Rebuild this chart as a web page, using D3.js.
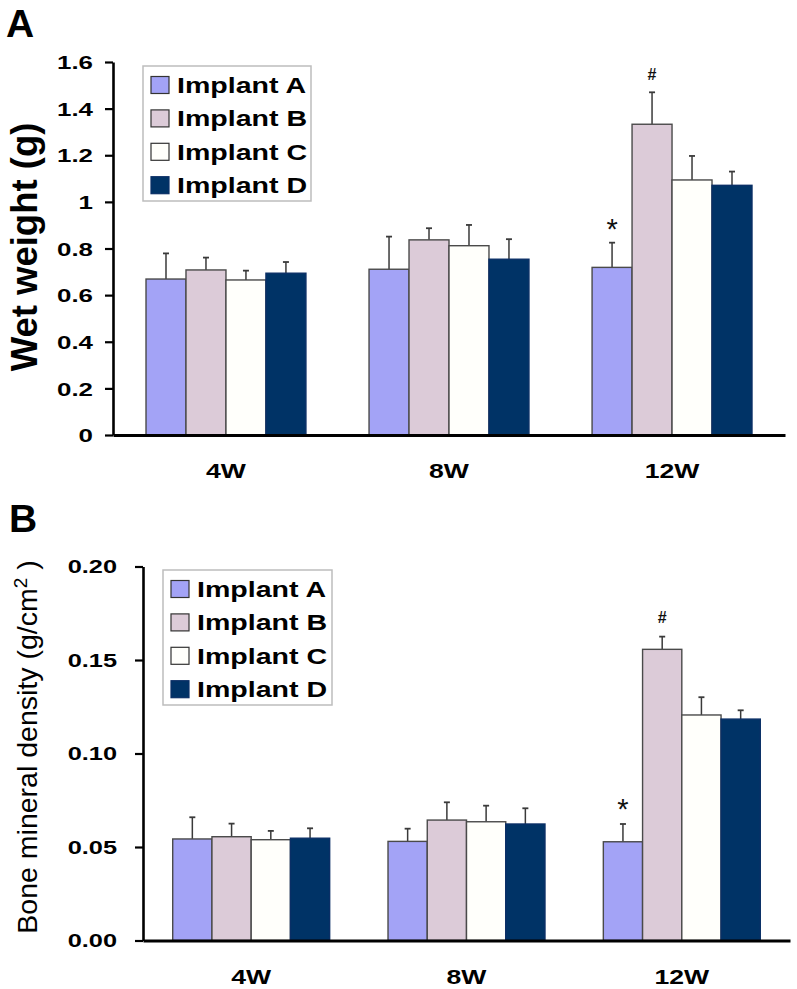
<!DOCTYPE html>
<html><head><meta charset="utf-8">
<script src="https://cdn.jsdelivr.net/npm/d3@7"></script>
<style>body{margin:0;background:#fff} svg{display:block}</style>
</head><body><svg id="c" width="797" height="989"></svg>
<script>
// ---------- data ----------
const weeks = ["4W", "8W", "12W"];
const series = ["Implant A", "Implant B", "Implant C", "Implant D"];
const fills = ["#a3a3f6", "#dccbd8", "#fffffb", "#003366"];
const outlines = ["#4a4a4a", "#4a4a4a", "#4a4a4a", "#0a2f66"];

// Panel A – wet weight (g); rows = weeks, columns = implants
const wetMean = [
  [0.669, 0.708, 0.665, 0.694],
  [0.711, 0.837, 0.812, 0.754],
  [0.719, 1.333, 1.094, 1.071]
];
const wetErr = [
  [0.110, 0.053, 0.040, 0.048],
  [0.140, 0.050, 0.089, 0.086],
  [0.106, 0.137, 0.103, 0.059]
];
const wetTicks = [0, 0.2, 0.4, 0.6, 0.8, 1, 1.2, 1.4, 1.6];
const wetTickLabels = ["0", "0.2", "0.4", "0.6", "0.8", "1", "1.2", "1.4", "1.6"];

// Panel B – bone mineral density (g/cm2)
const bmdMean = [
  [0.0543, 0.0555, 0.0539, 0.0547],
  [0.0530, 0.0644, 0.0635, 0.0623],
  [0.0528, 0.1557, 0.1206, 0.1184]
];
const bmdErr = [
  [0.0116, 0.0070, 0.0047, 0.0053],
  [0.0068, 0.0095, 0.0086, 0.0084],
  [0.0095, 0.0068, 0.0095, 0.0047]
];
const bmdTicks = [0, 0.05, 0.10, 0.15, 0.20];
const bmdTickLabels = ["0.00", "0.05", "0.10", "0.15", "0.20"];

// significance marks (week, implant, symbol)
const marks = [
  { week: "12W", series: "Implant A", sym: "*" },
  { week: "12W", series: "Implant B", sym: "#" }
];

// ---------- drawing ----------
const FONT = "'Liberation Sans', Arial, Helvetica, sans-serif";
const svg = d3.select("#c");

function panel(cfg) {
  const g = svg.append("g");
  const x0 = d3.scaleBand().domain(weeks).range(cfg.xr)
    .paddingInner(cfg.pi).paddingOuter(cfg.po);
  const x1 = d3.scaleBand().domain(series).range([0, x0.bandwidth()]);
  const y = d3.scaleLinear().domain([0, cfg.ymax]).range(cfg.yr);

  // bars
  weeks.forEach((w, wi) => {
    series.forEach((s, si) => {
      const v = cfg.mean[wi][si], e = cfg.err[wi][si];
      const bx = x0(w) + x1(s), bw = x1.bandwidth(), cx = bx + bw / 2;
      g.append("line").attr("x1", cx).attr("x2", cx)
        .attr("y1", y(v)).attr("y2", y(v + e))
        .attr("stroke", "#3a3a3a").attr("stroke-width", 1.5);
      g.append("line").attr("x1", cx - 3).attr("x2", cx + 3)
        .attr("y1", y(v + e)).attr("y2", y(v + e))
        .attr("stroke", "#3a3a3a").attr("stroke-width", 1.8);
      g.append("rect").attr("x", bx).attr("width", bw)
        .attr("y", y(v)).attr("height", y(0) - y(v))
        .attr("fill", fills[si]).attr("stroke", outlines[si]).attr("stroke-width", 1.4);
    });
  });

  // significance marks
  marks.forEach(m => {
    const wi = weeks.indexOf(m.week), si = series.indexOf(m.series);
    const top = y(cfg.mean[wi][si] + cfg.err[wi][si]);
    const cx = x0(m.week) + x1(m.series) + x1.bandwidth() / 2;
    if (m.sym === "*") {
      g.append("text").attr("x", cx).attr("y", top - cfg.starGap)
        .attr("text-anchor", "middle").attr("font-family", FONT)
        .attr("font-size", 29).attr("fill", "#111").text("*");
    } else {
      g.append("text").attr("x", cx).attr("y", top - cfg.hashGap)
        .attr("text-anchor", "middle").attr("font-family", FONT)
        .attr("font-weight", "bold").attr("font-size", 16).attr("fill", "#111").text("#");
    }
  });

  // y axis
  const ya = g.append("g").attr("transform", `translate(${cfg.xr[0]},0)`)
    .call(d3.axisLeft(y).tickValues(cfg.ticks).tickSize(8).tickSizeOuter(0)
      .tickFormat((d, i) => cfg.tickLabels[i]));
  ya.select(".domain").attr("stroke", "#000").attr("stroke-width", 2.6);
  ya.selectAll(".tick line").attr("stroke", "#000").attr("stroke-width", 2.2);
  ya.selectAll(".tick text").attr("x", null).attr("dy", "0.36em")
    .attr("transform", `translate(${-cfg.tickOff},0) scale(${cfg.tickSx},1)`)
    .attr("font-family", FONT).attr("font-weight", "bold")
    .attr("font-size", cfg.tickFs).attr("fill", "#000");

  // x axis
  const xa = g.append("g").attr("transform", `translate(0,${y(0)})`)
    .call(d3.axisBottom(x0).tickSize(0).tickSizeOuter(0));
  xa.select(".domain").attr("stroke", "#000").attr("stroke-width", 3);
  xa.selectAll(".tick text").attr("y", null).attr("dy", null)
    .attr("transform", `translate(0,${cfg.xLabGap}) scale(1.33,1)`)
    .attr("font-family", FONT).attr("font-weight", "bold")
    .attr("font-size", 20).attr("fill", "#000");

  // y title
  const t = g.append("text")
    .attr("transform", `translate(${cfg.titleX},${cfg.titleY}) rotate(-90)`)
    .attr("text-anchor", "middle").attr("font-family", FONT)
    .attr("font-size", cfg.titleFs).attr("font-weight", cfg.titleW).attr("fill", "#000");
  cfg.title(t);

  // panel letter
  g.append("text").attr("x", cfg.letterX).attr("y", cfg.letterY)
    .attr("font-family", FONT).attr("font-weight", "bold").attr("font-size", 39)
    .attr("fill", "#000").text(cfg.letter);

  // legend
  const lg = g.append("g").attr("transform", `translate(${cfg.lx},${cfg.ly})`);
  lg.append("rect").attr("width", cfg.lw).attr("height", cfg.lh)
    .attr("fill", "#fff").attr("stroke", "#bdbdbd").attr("stroke-width", 1.5);
  series.forEach((s, i) => {
    const cy = 19 + i * 33.4;
    lg.append("rect").attr("x", 8).attr("y", cy - 8.5).attr("width", 18).attr("height", 17)
      .attr("fill", fills[i]).attr("stroke", i === 3 ? outlines[3] : "#333").attr("stroke-width", 1.2);
    lg.append("text").attr("transform", `translate(34,${cy + 8}) scale(1.27,1)`)
      .attr("font-family", FONT).attr("font-weight", "bold").attr("font-size", 22.5)
      .attr("fill", "#000").text(s);
  });
}

panel({
  mean: wetMean, err: wetErr, ticks: wetTicks, tickLabels: wetTickLabels, ymax: 1.6,
  xr: [113, 785], yr: [435, 62], pi: 0.283, po: 0.148,
  tickOff: 20, tickSx: 1.4, tickFs: 18.5, xLabGap: 43,
  starGap: 4, hashGap: 12,
  titleX: 37, titleY: 247, titleFs: 36.5, titleW: "bold",
  title: t => t.text("Wet weight (g)"),
  letter: "A", letterX: 6, letterY: 37,
  lx: 143, ly: 66, lw: 168, lh: 135
});

panel({
  mean: bmdMean, err: bmdErr, ticks: bmdTicks, tickLabels: bmdTickLabels, ymax: 0.20,
  xr: [143, 790], yr: [940.5, 566.5], pi: 0.271, po: 0.138,
  tickOff: 26, tickSx: 1.45, tickFs: 17.5, xLabGap: 43,
  starGap: 5, hashGap: 13.5,
  titleX: 37, titleY: 747, titleFs: 28.5, titleW: "normal",
  title: t => {
    t.append("tspan").text("Bone mineral density (g/cm");
    t.append("tspan").attr("baseline-shift", "super").attr("font-size", 19).text("2");
    t.append("tspan").text(" )");
  },
  letter: "B", letterX: 9, letterY: 532,
  lx: 163, ly: 570, lw: 169, lh: 135
});
</script>
</body></html>
